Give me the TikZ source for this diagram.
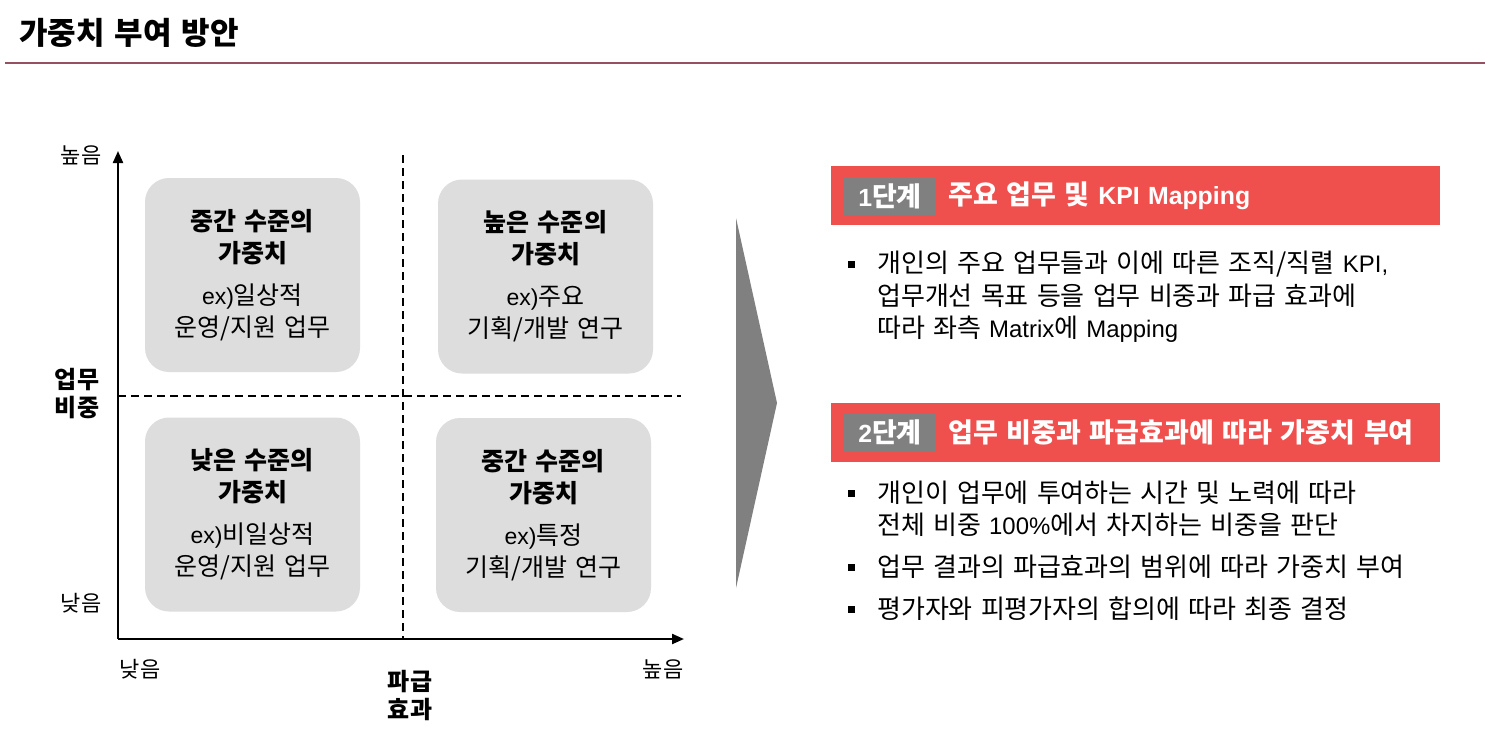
\documentclass[tikz,border=0pt]{standalone}
\usepackage{fontspec}
\setmainfont{Noto Sans CJK KR}[WordSpace=1.4]
\newfontfamily\latf{Liberation Sans}[Scale=0.92, WordSpace=1.2]
\newcommand\lat[1]{{\latf #1}}
\usetikzlibrary{arrows.meta}
\definecolor{barred}{RGB}{239,80,77}
\definecolor{bargray}{RGB}{128,128,128}
\definecolor{boxgray}{RGB}{221,221,221}
\definecolor{ruleline}{RGB}{150,80,96}
\tikzset{
  qbox/.style={fill=boxgray, rounded corners=24pt, minimum width=215pt, minimum height=194pt,
    align=center, font=\fontsize{25}{32}\selectfont, inner sep=0pt},
  axisline/.style={line width=2.2pt, -{Triangle[length=12pt,width=10pt]}},
  dashline/.style={line width=1.8pt, dash pattern=on 8pt off 5pt},
  barbox/.style={fill=barred, minimum width=609pt, minimum height=59pt, inner sep=0pt, anchor=north west},
  tagbox/.style={fill=bargray, minimum width=92pt, minimum height=38pt, inner sep=0pt, text=white,
    font=\fontsize{27}{27}\selectfont\bfseries},
  bartext/.style={text=white, anchor=west, inner sep=0pt, font=\fontsize{27}{27}\selectfont\bfseries},
  bullettext/.style={anchor=west, align=left, inner sep=0pt, font=\fontsize{26}{32.5}\selectfont},
  bulletsq/.style={fill=black, minimum size=7pt, inner sep=0pt},
  lbl/.style={inner sep=0pt, font=\fontsize{22}{28}\selectfont},
  lblb/.style={inner sep=0pt, align=center, font=\fontsize{24}{28}\selectfont\bfseries},
}
\begin{document}
\begin{tikzpicture}[x=1pt,y=-1pt]
\useasboundingbox[fill=white] (0,0) rectangle (1485,739);

% title
\node[anchor=west, inner sep=0pt, font=\fontsize{31}{31}\selectfont\bfseries] (title) at (19,33) {가중치 부여 방안};
\coordinate (rl) at (5,63);
\coordinate (rr) at (1485,63);
\draw[ruleline, line width=2pt] (rl) -- (rr);

% quadrant boxes
\node[qbox] (q1) at (252.5,275) {\textbf{중간 수준의}\\\textbf{가중치}\\[10pt]\lat{ex)}일상적\\운영/지원 업무};
\node[qbox] (q2) at (545.5,276.5) {\textbf{높은 수준의}\\\textbf{가중치}\\[10pt]\lat{ex)}주요\\기획/개발 연구};
\node[qbox] (q3) at (252.5,514.5) {\textbf{낮은 수준의}\\\textbf{가중치}\\[10pt]\lat{ex)}비일상적\\운영/지원 업무};
\node[qbox] (q4) at (543.5,515) {\textbf{중간 수준의}\\\textbf{가중치}\\[10pt]\lat{ex)}특정\\기획/개발 연구};

% dashed dividers
\coordinate (vt) at (403,155);
\coordinate (vb) at (403,639);
\coordinate (hl) at (118,396);
\coordinate (hr) at (681,396);
\draw[dashline] (vt) -- (vb);
\draw[dashline] (hl) -- (hr);

% axes
\coordinate (O) at (118,639);
\coordinate (ytop) at (118,151);
\coordinate (xend) at (684,639);
\draw[axisline] (O) -- (ytop);
\draw[axisline] (O) -- (xend);

% axis labels
\node[lbl] (yhigh) at (81,155) {높음};
\node[lbl] (ylow) at (81,603) {낮음};
\node[lblb] (ylab) at (77,394) {업무\\비중};
\node[lbl] (xlow) at (140,669) {낮음};
\node[lbl] (xhigh) at (663,669) {높음};
\node[lblb] (xlab) at (410,696) {파급\\효과};

% big arrow
\fill[bargray] (736,218) -- (777,403) -- (736,588) -- cycle;

% step 1
\node[barbox] (bar1) at (831,166) {};
\node[tagbox] (tag1) at (890,196) {\lat{1}단계};
\node[bartext] (t1) at (948,196) {주요 업무 및 \lat{KPI Mapping}};
\node[bulletsq] (s1) at (851.5,264) {};
\node[bullettext] (b1) at (877,297) {개인의 주요 업무들과 이에 따른 조직/직렬 \lat{KPI,}\\업무개선 목표 등을 업무 비중과 파급 효과에\\따라 좌측 \lat{Matrix}에 \lat{Mapping}};

% step 2
\node[barbox] (bar2) at (831,403) {};
\node[tagbox] (tag2) at (890,432.5) {\lat{2}단계};
\node[bartext] (t2) at (948,432.5) {업무 비중과 파급효과에 따라 가중치 부여};
\node[bulletsq] (s2) at (851.5,493) {};
\node[bullettext] (b2) at (877,509) {개인이 업무에 투여하는 시간 및 노력에 따라\\전체 비중 \lat{100\%}에서 차지하는 비중을 판단};
\node[bulletsq] (s3) at (851.5,567) {};
\node[bullettext] (b3) at (877,567) {업무 결과의 파급효과의 범위에 따라 가중치 부여};
\node[bulletsq] (s4) at (851.5,609) {};
\node[bullettext] (b4) at (877,609) {평가자와 피평가자의 합의에 따라 최종 결정};
\end{tikzpicture}
\end{document}
